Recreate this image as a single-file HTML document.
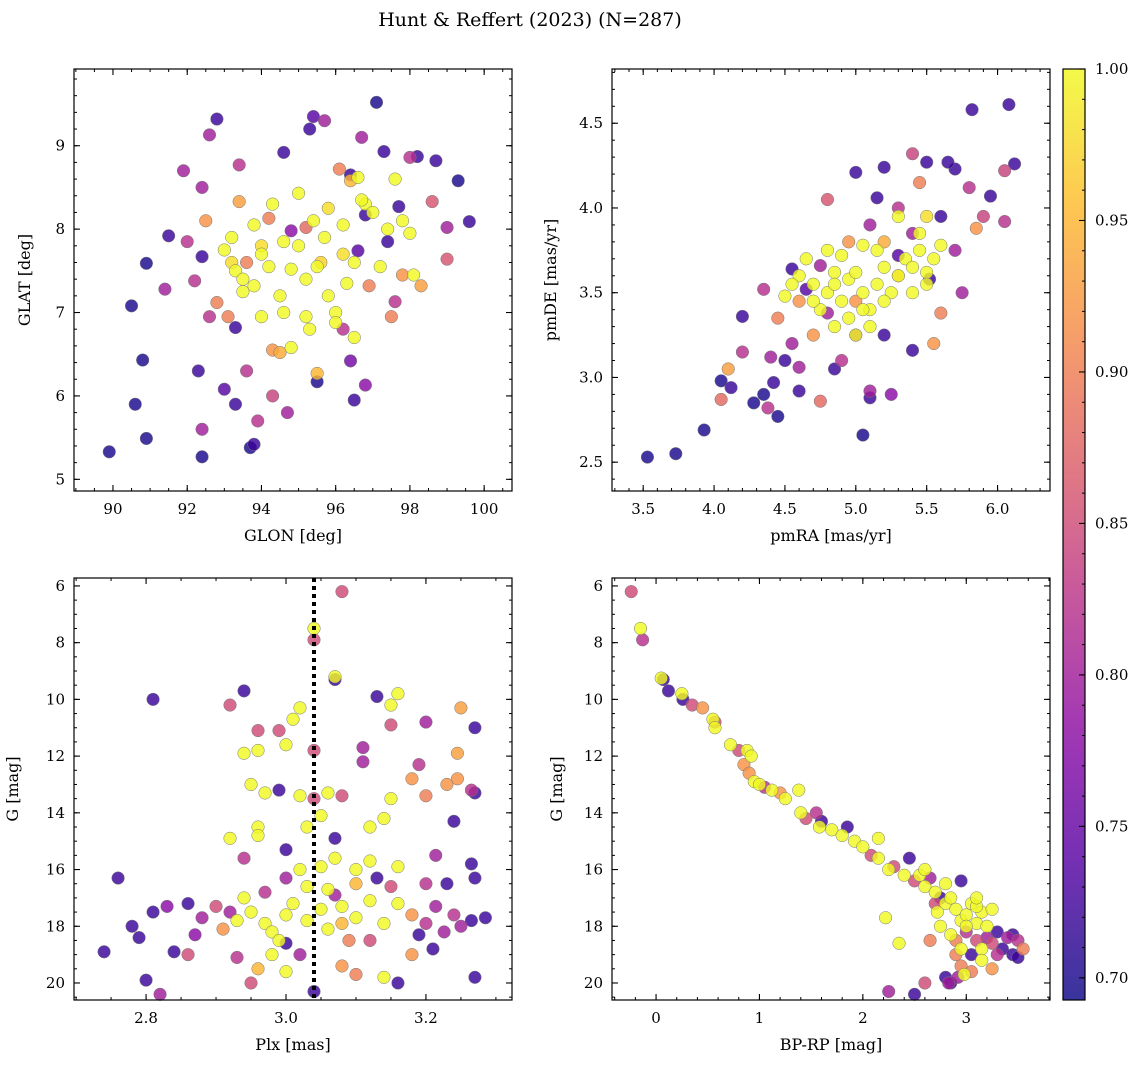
<!DOCTYPE html>
<html><head><meta charset="utf-8"><style>
html,body{margin:0;padding:0;background:#fff;}
svg text{font-family:"DejaVu Serif","Liberation Serif",serif;fill:#000;}
</style></head><body>
<svg id="chart" width="1148" height="1068" viewBox="0 0 1148 1068" xmlns="http://www.w3.org/2000/svg">
<text x="530" y="26" font-size="19" text-anchor="middle">Hunt &amp; Reffert (2023) (N=287)</text>
</svg>
<script>
// ---- data: [x, y, membership probability] ----
const skyPoints = [
[89.9,5.33,.7],[90.5,7.08,.7],[90.6,5.9,.7],[90.8,6.43,.7],[90.9,5.49,.7],[90.9,7.59,.7],[91.5,7.92,.72],[92.3,6.3,.72],[92.4,5.27,.7],[92.4,7.67,.72],[92.8,9.32,.72],[93.0,6.08,.74],[93.3,5.9,.72],[93.7,5.38,.7],[93.8,5.42,.72],[94.6,8.92,.72],[95.3,9.2,.72],[95.4,9.35,.74],[95.5,6.17,.7],[96.5,5.95,.72],[97.1,9.52,.7],[97.3,8.93,.72],[98.2,8.87,.72],[98.7,8.82,.72],[99.3,8.58,.7],[99.6,8.09,.72],[96.4,8.65,.72],[96.8,8.17,.72],[97.7,8.27,.72],[97.4,7.85,.72],[96.6,7.74,.74],[93.3,6.82,.72],[96.4,6.42,.76],[96.8,6.13,.78],
[91.9,8.7,.8],[92.4,8.5,.8],[92.6,9.13,.8],[91.4,7.28,.8],[92.2,7.38,.82],[92.6,6.95,.82],[92.4,5.6,.8],[93.6,6.3,.82],[93.4,8.77,.82],[94.3,6.0,.84],[94.7,5.8,.8],[93.9,5.7,.82],[95.7,9.3,.8],[96.7,9.1,.8],[98.0,8.86,.82],[99.0,8.02,.8],[98.6,8.33,.86],[99.0,7.64,.86],[92.0,7.85,.82],[96.2,6.8,.82],[97.6,7.13,.82],[94.8,7.98,.78],
[92.5,8.1,.92],[93.4,8.33,.93],[94.3,6.55,.92],[94.5,6.52,.94],[95.5,6.27,.95],[96.1,8.72,.9],[96.4,8.58,.95],[98.3,7.32,.93],[97.5,6.95,.9],[92.8,7.12,.9],[93.1,6.95,.9],[93.6,7.6,.9],[95.2,8.02,.88],[94.2,8.13,.9],[96.9,7.32,.9],[97.8,7.45,.92],
[93.0,7.75,1],[93.3,7.5,1],[93.5,7.4,1],[93.8,7.32,1],[94.0,7.7,1],[94.2,7.55,1],[94.5,7.2,1],[94.8,7.52,1],[95.0,7.8,1],[95.2,7.4,1],[95.5,7.55,1],[95.8,7.2,1],[96.0,7.0,1],[96.3,7.35,1],[96.5,7.6,1],[96.8,8.3,1],[97.0,8.2,1],[97.2,7.55,1],[97.4,8.0,1],[97.8,8.1,1],[98.0,7.95,1],[98.1,7.45,1],[96.6,8.62,1],[97.6,8.6,1],[95.0,8.43,1],[94.3,8.3,1],[93.8,8.05,1],[93.2,7.9,1],[94.8,6.58,1],[95.2,6.95,1],[94.6,7.0,1],[95.3,6.8,1],[96.0,6.88,1],[96.5,6.7,1],[94.0,6.95,1],[93.5,7.25,1],[95.7,7.9,1],[96.2,8.05,1],[95.4,8.1,1],[96.7,8.35,1],[94.6,7.85,1],[95.8,8.25,.98],[96.2,7.7,.98],[94.0,7.8,.98],[95.6,7.6,.97],[93.2,7.6,.98]];
const pmPoints = [
[3.53,2.53,.7],[3.73,2.55,.7],[3.93,2.69,.7],[4.05,2.98,.7],[4.12,2.94,.72],[4.2,3.36,.72],[4.28,2.85,.7],[4.35,2.9,.7],[4.45,2.77,.7],[4.42,2.97,.72],[4.5,3.1,.72],[4.6,2.92,.72],[5.05,2.66,.7],[5.1,2.88,.72],[5.2,3.25,.72],[5.4,3.16,.72],[5.52,3.58,.72],[5.6,3.95,.72],[5.7,4.23,.72],[5.65,4.27,.72],[5.82,4.58,.72],[6.08,4.61,.72],[6.12,4.26,.72],[5.95,4.07,.72],[5.15,4.06,.72],[5.2,4.24,.72],[5.0,4.21,.72],[5.5,4.27,.72],[4.55,3.64,.72],[4.65,3.52,.74],[4.85,3.05,.72],[5.3,3.72,.74],
[4.35,3.52,.82],[4.2,3.15,.82],[4.38,2.82,.82],[4.55,3.2,.8],[4.75,3.66,.8],[4.9,3.1,.82],[5.1,2.92,.8],[5.25,2.9,.78],[5.1,3.9,.8],[5.3,4.0,.82],[5.4,4.32,.84],[5.8,4.12,.82],[5.9,3.95,.84],[6.05,4.22,.84],[6.05,3.92,.82],[5.7,3.75,.8],[5.75,3.5,.8],[4.8,3.38,.8],[5.0,3.25,.78],[5.4,3.85,.8],[4.4,3.12,.8],[4.6,3.06,.8],
[4.05,2.87,.88],[4.1,3.05,.93],[4.75,2.86,.88],[4.8,4.05,.86],[5.45,4.15,.9],[5.85,3.88,.92],[5.55,3.2,.92],[4.95,3.8,.92],[4.6,3.45,.92],[4.45,3.35,.9],[5.6,3.38,.9],[4.7,3.25,.92],[5.0,3.45,.92],[5.2,3.8,.94],[5.3,3.6,.92],
[4.5,3.48,1],[4.6,3.6,1],[4.7,3.55,1],[4.8,3.5,1],[4.85,3.62,1],[4.9,3.45,1],[4.95,3.58,1],[5.0,3.62,1],[5.05,3.5,1],[5.1,3.4,1],[5.15,3.55,1],[5.2,3.65,1],[5.25,3.5,1],[5.3,3.6,1],[5.35,3.7,1],[5.4,3.65,1],[5.45,3.75,1],[5.5,3.62,1],[5.55,3.7,1],[5.6,3.78,1],[4.75,3.4,1],[4.85,3.3,1],[4.95,3.35,1],[5.0,3.25,1],[5.1,3.3,1],[4.65,3.7,1],[4.8,3.75,1],[4.9,3.72,1],[5.05,3.78,1],[5.15,3.75,1],[5.3,3.95,1],[5.5,3.55,1],[4.55,3.55,1],[4.7,3.45,1],[5.2,3.45,1],[5.4,3.5,1],[5.05,3.4,1],[4.85,3.55,1],[5.5,3.95,.98],[5.45,3.85,1]];
const plxPoints = [
[3.08,6.2,.85],[3.04,7.5,1],[3.04,7.9,.85],[3.07,9.2,1],[3.07,9.3,.72],[2.81,10.0,.72],[2.94,9.7,.72],[2.92,10.2,.85],[3.02,10.3,1],[3.01,10.7,1],[3.13,9.9,.72],[3.16,9.8,1],[3.15,10.2,1],[3.2,10.8,.8],[3.25,10.3,.93],[3.27,11.0,.72],[2.96,11.1,.85],[2.99,11.1,.85],[2.94,11.9,1],[2.96,11.8,1],[3.0,11.6,1],[3.04,11.8,.85],[3.11,11.7,.8],[3.15,10.9,.85],[3.11,12.2,.8],[3.19,12.3,.82],[3.18,12.8,.92],[3.245,11.9,.93],[3.245,12.8,.92],[3.23,13.0,.92],[3.265,13.2,.82],[3.27,13.3,.72],[3.24,14.3,.72],[2.95,13.0,1],[2.97,13.3,1],[2.99,13.2,.72],[3.02,13.4,1],[3.04,13.5,.85],[3.06,13.3,1],[3.08,13.4,.85],[3.15,13.5,1],[3.2,13.4,.9],[3.12,14.5,1],[3.14,14.2,1],[3.03,14.5,1],[3.05,14.1,1],[2.96,14.5,1],[2.92,14.9,1],[2.96,14.8,1],[3.07,14.9,.72],[2.94,15.6,.82],[3.0,15.3,.72],[3.02,16.0,1],[3.05,15.9,1],[3.07,15.6,1],[3.1,16.0,1],[3.12,15.7,1],[3.16,15.9,1],[3.214,15.5,.8],[3.265,15.8,.72],[2.76,16.3,.72],[3.0,16.3,.8],[3.13,16.3,.72],[3.2,16.5,.82],[3.23,16.5,.72],[3.27,16.3,.72],
[2.74,18.9,.72],[2.78,18.0,.72],[2.79,18.4,.72],[2.81,17.5,.72],[2.83,17.3,.78],[2.86,17.2,.72],[2.87,18.3,.78],[2.88,17.7,.8],[2.9,17.3,.85],[2.92,17.5,.8],[2.91,18.1,.92],[2.93,17.8,1],[2.95,17.5,1],[2.97,17.9,1],[2.98,18.2,1],[3.0,17.6,1],[3.01,17.2,1],[3.03,17.8,1],[3.05,17.4,1],[3.06,18.1,1],[3.08,17.3,1],[3.1,17.7,1],[3.12,17.1,1],[3.14,17.9,1],[3.16,17.2,1],[3.18,17.6,.92],[3.2,17.9,.82],[3.214,17.3,.8],[3.226,18.2,.8],[3.24,17.6,.82],[3.25,18.0,.8],[3.265,17.8,.72],[3.285,17.7,.72],[2.8,19.9,.72],[2.82,20.4,.8],[2.84,18.9,.72],[2.86,19.0,.85],[2.93,19.1,.82],[2.95,20.0,.85],[2.96,19.5,.95],[2.98,19.0,1],[3.0,19.6,1],[3.04,20.3,.72],[3.08,19.4,.92],[3.1,19.7,.9],[3.14,19.8,1],[3.16,20.0,.72],[3.18,19.0,.92],[3.21,18.8,.72],[3.27,19.8,.72],[3.0,18.6,.72],[2.97,16.8,.82],[3.06,16.7,1],[3.1,16.5,.95],[3.15,16.6,.85],[2.99,18.5,1],[3.09,18.5,.9],[3.02,19.0,.8],[3.12,18.5,.85],[3.19,18.3,.72],[2.94,17.0,1],[3.03,16.6,1],[3.07,16.9,.8],[3.08,17.9,.95]];
const cmdPoints = [
[-0.24,6.2,.85],[-0.15,7.5,1],[-0.13,7.9,.82],[0.05,9.25,1],[0.07,9.3,.72],[0.12,9.7,.72],[0.25,9.8,1],[0.26,10.0,.72],[0.35,10.2,.85],[0.45,10.3,.92],[0.55,10.7,1],[0.57,11.0,1],[0.57,10.8,.85],[0.72,11.6,1],[0.8,11.8,.85],[0.88,11.8,1],[0.92,12.0,1],[0.85,12.3,.92],[0.9,12.6,.92],[0.95,12.9,1],[1.0,13.0,1],[1.05,13.1,.82],[1.12,13.2,1],[1.2,13.3,.92],[1.25,13.5,1],[1.38,13.2,1],[1.4,14.0,1],[1.45,14.2,.85],[1.55,14.0,.82],[1.58,14.5,1],[1.6,14.3,.72],[1.7,14.6,1],[1.8,14.8,1],[1.85,14.5,.72],[1.92,15.0,1],[2.0,15.2,1],[2.08,15.5,.85],[2.15,15.6,1],[2.15,14.9,1],[2.25,16.0,1],[2.3,15.9,.85],[2.4,16.2,1],[2.45,15.6,.72],[2.5,16.4,.85],[2.55,16.2,1],[2.6,16.6,1],[2.65,16.3,.8],[2.7,16.8,1],[2.75,17.0,.72],[2.8,17.2,1],[2.85,17.0,1],[2.9,17.4,1],[2.95,16.4,.72],[2.95,17.8,1],[3.0,17.6,1],[3.05,17.2,1],[3.1,17.9,1],[3.15,17.5,1],[3.2,18.0,1],[3.0,18.2,.82],[3.1,18.5,.85],[3.15,18.8,1],[3.2,18.4,.8],[3.25,18.6,.85],[3.3,18.2,.72],[3.35,18.8,.72],[3.4,18.4,.8],[3.45,19.0,.72],[3.5,18.5,.82],[3.55,18.8,.9],[3.45,18.3,.72],[3.5,19.1,.72],[3.05,19.0,.72],[2.95,19.4,.9],[2.9,19.0,.9],[2.98,19.7,1],[2.92,19.8,.8],[2.8,19.8,.72],[2.85,20.0,.72],[2.83,20.0,.8],[2.6,20.0,.85],[2.5,20.4,.72],[2.25,20.3,.8],[2.35,18.6,1],[2.22,17.7,1],[2.65,18.5,.9],[2.72,17.5,1],[2.75,18.0,1],[2.85,18.3,1],[3.0,18.0,1],[3.1,17.3,1],[3.25,17.4,1],[2.95,18.8,1],[3.15,19.2,1],[3.3,19.0,.82],[3.25,19.5,.92],[3.05,19.6,.9],[2.9,18.5,.9],[3.1,17.0,1],[2.7,17.2,.85],[2.8,16.5,1],[2.6,16.0,1]];
const glonTicks = [90,92,94,96,98,100];
const glatTicks = [5,6,7,8,9];
const pmraTicks = [3.5,4.0,4.5,5.0,5.5,6.0];
const pmdeTicks = [2.5,3.0,3.5,4.0,4.5];
const plxTicks = [2.8,3.0,3.2];
const gTicks = [6,8,10,12,14,16,18,20];
const bprpTicks = [0,1,2,3];
const cbarTicks = [0.70,0.75,0.80,0.85,0.90,0.95,1.00];
const plxMeanLine = [3.04];

const NS="http://www.w3.org/2000/svg";
const svg=document.getElementById('chart');
const plasma=[[13,8,135],[84,2,163],[139,10,165],[185,50,137],[219,92,104],[244,136,73],[254,188,43],[240,249,33]];
const vmin=0.6927, vmax=1.0;
function cmap(v){let t=(v-vmin)/(vmax-vmin);t=Math.max(0,Math.min(1,t))*(plasma.length-1);const i=Math.min(plasma.length-2,Math.floor(t));const f=t-i;const a=plasma[i],b=plasma[i+1];return `rgb(${Math.round(a[0]+(b[0]-a[0])*f)},${Math.round(a[1]+(b[1]-a[1])*f)},${Math.round(a[2]+(b[2]-a[2])*f)})`;}
function mk(tag,attrs,parent){const e=document.createElementNS(NS,tag);for(const k in attrs)e.setAttribute(k,attrs[k]);(parent||svg).appendChild(e);return e;}
function fmt(v,d){return v.toFixed(d);}

function panel(o){
  const g=mk('g',{});
  
  
  const sx=v=>o.x0+(v-o.xmin)/(o.xmax-o.xmin)*(o.x1-o.x0);
  const sy=o.yinv? (v=>o.y0+(v-o.ymin)/(o.ymax-o.ymin)*(o.y1-o.y0)) : (v=>o.y1-(v-o.ymin)/(o.ymax-o.ymin)*(o.y1-o.y0));
  const pg=mk('g',{},g);
  
  
  const pts=o.data.slice().sort((a,b)=>a[2]-b[2]);
  pts.forEach(p=>{
    const c=mk('circle',{cx:sx(p[0]),cy:sy(p[1]),r:6.3,fill:cmap(p[2]),'fill-opacity':0.82,stroke:'#777','stroke-width':0.5},pg);
    
    
  });
  if(o.vline){o.vline.forEach(v=>{const l=mk('line',{x1:sx(v),x2:sx(v),y1:o.y0,y2:o.y1,stroke:'#000','stroke-width':4,'stroke-dasharray':'4,4'},g);
    
    });}
  const fr=mk('rect',{x:o.x0,y:o.y0,width:o.x1-o.x0,height:o.y1-o.y0,fill:'none',stroke:'#000','stroke-width':1.2},g);
  
  
  const lo=Math.ceil(o.xmin/o.xminor-1e-9), hi=Math.floor(o.xmax/o.xminor+1e-9);
  for(let i=lo;i<=hi;i++){const x=sx(i*o.xminor);mk('line',{x1:x,x2:x,y1:o.y1,y2:o.y1-3,stroke:'#000','stroke-width':1},g);mk('line',{x1:x,x2:x,y1:o.y0,y2:o.y0+3,stroke:'#000','stroke-width':1},g);}
  const lo2=Math.ceil(Math.min(o.ymin,o.ymax)/o.yminor-1e-9), hi2=Math.floor(Math.max(o.ymin,o.ymax)/o.yminor+1e-9);
  for(let i=lo2;i<=hi2;i++){const y=sy(i*o.yminor);mk('line',{x1:o.x0,x2:o.x0+3,y1:y,y2:y,stroke:'#000','stroke-width':1},g);mk('line',{x1:o.x1,x2:o.x1-3,y1:y,y2:y,stroke:'#000','stroke-width':1},g);}
  o.xt.forEach(v=>{const x=sx(v);mk('line',{x1:x,x2:x,y1:o.y1,y2:o.y1-6,stroke:'#000','stroke-width':1.1},g);mk('line',{x1:x,x2:x,y1:o.y0,y2:o.y0+6,stroke:'#000','stroke-width':1.1},g);
    const t=mk('text',{x:x,y:o.y1+23,'font-size':15,'text-anchor':'middle'},g);t.textContent=fmt(v,o.xd);
    
    });
  o.yt.forEach(v=>{const y=sy(v);mk('line',{x1:o.x0,x2:o.x0+6,y1:y,y2:y,stroke:'#000','stroke-width':1.1},g);mk('line',{x1:o.x1,x2:o.x1-6,y1:y,y2:y,stroke:'#000','stroke-width':1.1},g);
    const t=mk('text',{x:o.x0-9,y:y+5,'font-size':15,'text-anchor':'end'},g);t.textContent=fmt(v,o.yd);
    
    });
  const xl=mk('text',{x:(o.x0+o.x1)/2,y:o.y1+50,'font-size':16,'text-anchor':'middle'},g);xl.textContent=o.xlabel;
  
  
  const yx=o.x0-(o.ylx||45), yy=(o.y0+o.y1)/2;
  const yl=mk('text',{x:yx,y:yy,'font-size':16,'text-anchor':'middle',transform:`rotate(-90 ${yx} ${yy})`},g);yl.textContent=o.ylabel;
  
  
}
panel({name:'sky-position-panel',data:skyPoints,x0:74,x1:512,y0:69,y1:491,xmin:88.95,xmax:100.75,ymin:4.86,ymax:9.92,xt:glonTicks,yt:glatTicks,xminor:0.5,yminor:0.2,xd:0,yd:0,xlabel:'GLON [deg]',ylabel:'GLAT [deg]',ylx:44});
panel({name:'proper-motion-panel',data:pmPoints,x0:612,x1:1050,y0:69,y1:491,xmin:3.28,xmax:6.37,ymin:2.33,ymax:4.82,xt:pmraTicks,yt:pmdeTicks,xminor:0.1,yminor:0.1,xd:1,yd:1,xlabel:'pmRA [mas/yr]',ylabel:'pmDE [mas/yr]',ylx:56});
panel({name:'parallax-panel',data:plxPoints,vline:plxMeanLine,x0:74,x1:512,y0:578,y1:1000,xmin:2.697,xmax:3.323,ymin:5.72,ymax:20.6,yinv:true,xt:plxTicks,yt:gTicks,xminor:0.05,yminor:0.5,xd:1,yd:0,xlabel:'Plx [mas]',ylabel:'G [mag]',ylx:56});
panel({name:'cmd-panel',data:cmdPoints,x0:612,x1:1050,y0:578,y1:1000,xmin:-0.426,xmax:3.81,ymin:5.72,ymax:20.6,yinv:true,xt:bprpTicks,yt:gTicks,xminor:0.2,yminor:0.5,xd:0,yd:0,xlabel:'BP-RP [mag]',ylabel:'G [mag]',ylx:50});

const cb=mk('g',{});


const defs=mk('defs',{},cb);
const grad=mk('linearGradient',{id:'cbg',x1:0,y1:1,x2:0,y2:0},defs);
for(let i=0;i<=20;i++){const v=vmin+(vmax-vmin)*i/20;mk('stop',{offset:(i/20),'stop-color':cmap(v),'stop-opacity':0.82},grad);}
const cbx0=1063,cbx1=1085,cby0=69,cby1=1000;
const cy=v=>cby1-(v-vmin)/(vmax-vmin)*(cby1-cby0);
mk('rect',{x:cbx0,y:cby0,width:cbx1-cbx0,height:cby1-cby0,fill:'url(#cbg)',stroke:'#000','stroke-width':1.2},cb);
for(let i=70;i<=100;i++){const y=cy(i/100);mk('line',{x1:cbx1,x2:cbx1-3,y1:y,y2:y,stroke:'#000','stroke-width':1},cb);}
cbarTicks.forEach(v=>{const y=cy(v);mk('line',{x1:cbx1,x2:cbx1-6,y1:y,y2:y,stroke:'#000','stroke-width':1.1},cb);
  const t=mk('text',{x:cbx1+10,y:y+5,'font-size':15},cb);t.textContent=v.toFixed(2);
  
  });
</script>
</body></html>
